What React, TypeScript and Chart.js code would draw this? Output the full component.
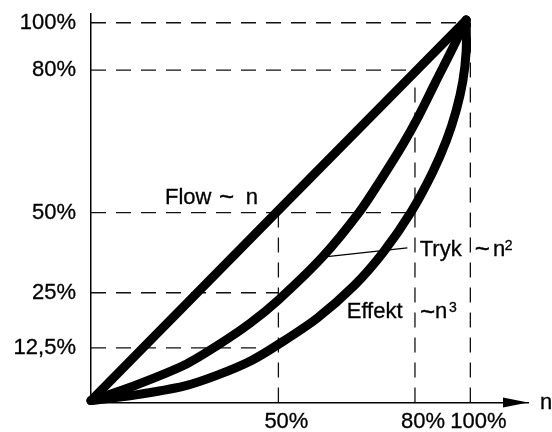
import React, { useEffect, useRef } from "react";
import { Chart, registerables } from "chart.js";

Chart.register(...registerables);

// Tick positions along the schematic axes and their labels
const xTickValues = [49.4, 85.4, 100];
const xTickLabels = ["50%", "80%", "100%"];
const yTickValues = [14.4, 28.9, 50, 87.5, 100];
const yTickLabels = ["12,5%", "25%", "50%", "80%", "100%"];

// Curves (schematic units)
const flowPoints = [
  { x: 0, y: 0.5 },
  { x: 49.2, y: 50.4 },
  { x: 98.9, y: 100.7 },
];
const trykPoints = [
  { x: 0, y: 0.5 },
  { x: 11.1, y: 4.3 },
  { x: 24.5, y: 9.8 },
  { x: 33.3, y: 15.0 },
  { x: 42.1, y: 21.0 },
  { x: 49.4, y: 27.0 },
  { x: 61.0, y: 38.3 },
  { x: 70.7, y: 50.1 },
  { x: 76.5, y: 58.8 },
  { x: 82.3, y: 68.1 },
  { x: 86.3, y: 75.3 },
  { x: 90.7, y: 84.1 },
  { x: 95.0, y: 92.6 },
  { x: 98.9, y: 100.7 },
];
const effektPoints = [
  { x: 0, y: 0.5 },
  { x: 11.1, y: 1.9 },
  { x: 24.5, y: 4.3 },
  { x: 33.3, y: 7.2 },
  { x: 42.2, y: 11.0 },
  { x: 49.4, y: 15.3 },
  { x: 59.6, y: 22.2 },
  { x: 69.4, y: 30.8 },
  { x: 77.0, y: 39.5 },
  { x: 84.4, y: 50.2 },
  { x: 90.0, y: 60.5 },
  { x: 93.7, y: 69.0 },
  { x: 96.3, y: 77.0 },
  { x: 98.0, y: 84.5 },
  { x: 98.9, y: 92.5 },
  { x: 98.9, y: 100.7 },
];

// Dashed guide segments
const guideSegments = [
  [[0, 100], [98.8, 100]],
  [[0, 87.5], [85.4, 87.5]],
  [[0, 50], [85.4, 50]],
  [[0, 28.9], [49.4, 28.9]],
  [[0, 14.4], [49.4, 14.4]],
  [[49.4, 0], [49.4, 50]],
  [[85.4, 0], [85.4, 87.5]],
  [[100, 0], [100, 100]],
];

// Leader line from the "Tryk" label to its curve
const leaderPoints = [
  { x: 61.0, y: 38.3 },
  { x: 83.4, y: 40.7 },
];

// Curve label texts, anchored in axis units
const labelTexts = ["Flow", "~", "n", "Tryk", "~", "n", "2", "Effekt", "~", "n", "3"];
const labelAnchorX = [19.5, 33.75, 40.8, 86.66, 101.16, 105.98, 109.07, 67.41, 86.74, 90.69, 94.38];
const labelAnchorY = [52.3, 52.3, 52.3, 38.7, 38.7, 38.7, 38.7, 22.2, 22.2, 22.2, 22.2];

// Glyph styling per label piece (font size, baseline shift in px)
const labelStyle = [
  [22, 0], [26, 1.5], [22, 0],
  [22, 0], [26, 1.5], [22, 0], [14, -5.7],
  [22, 0], [26, 1.5], [22, 0], [14, -5.7],
];

const FONT_FAMILY = "'Liberation Sans', Arial, sans-serif";
const TEXT_STROKE = 0.3;

export default function App() {
  const ref = useRef<HTMLCanvasElement>(null);

  useEffect(() => {
    const canvas = ref.current;
    if (!canvas) return;

    const font = { family: FONT_FAMILY, size: 22 };

    const curve = (data: any[], tension: number) => ({
      data,
      borderColor: "#000",
      borderWidth: 9,
      pointRadius: 0,
      tension,
      fill: false,
      order: 0,
      clip: 20,
      borderCapStyle: "round",
      borderJoinStyle: "round",
    });

    const guides = guideSegments.map((seg) => ({
      data: seg.map(([x, y]) => ({ x, y })),
      borderColor: "#111",
      borderWidth: 1.3,
      borderDash: [15, 10],
      pointRadius: 0,
      tension: 0,
      fill: false,
      order: 2,
      clip: 20,
    }));

    const overlay = {
      id: "overlay",
      afterDraw(chart: any) {
        const { ctx, chartArea, scales } = chart;
        const xs = scales.x;
        const ys = scales.y;
        const yb = chartArea.bottom;
        ctx.save();
        ctx.fillStyle = "#000";
        ctx.strokeStyle = "#000";
        ctx.lineWidth = TEXT_STROKE;
        ctx.beginPath();
        ctx.moveTo(chartArea.right, yb);
        ctx.lineTo(chartArea.right - 25, yb - 5);
        ctx.lineTo(chartArea.right - 25, yb + 5);
        ctx.closePath();
        ctx.fill();
        ctx.font = `22px ${FONT_FAMILY}`;
        ctx.textAlign = "left";
        ctx.textBaseline = "middle";
        ctx.fillText("n", chartArea.right + 12, yb);
        ctx.strokeText("n", chartArea.right + 12, yb);
        ctx.textBaseline = "alphabetic";
        labelTexts.forEach((t, i) => {
          const [size, dy] = labelStyle[i];
          ctx.font = `${size}px ${FONT_FAMILY}`;
          const px = xs.getPixelForValue(labelAnchorX[i]);
          const py = ys.getPixelForValue(labelAnchorY[i]) + dy;
          ctx.fillText(t, px, py);
          ctx.strokeText(t, px, py);
        });
        ctx.restore();
      },
    };

    const tickText = {
      autoSkip: false,
      color: "#000",
      font,
      textStrokeColor: "#000",
      textStrokeWidth: TEXT_STROKE,
    };

    const chart = new Chart(canvas, {
      type: "line",
      data: {
        datasets: [
          curve(flowPoints, 0),
          curve(trykPoints, 0.3),
          curve(effektPoints, 0.3),
          {
            data: leaderPoints,
            borderColor: "#000",
            borderWidth: 1.3,
            pointRadius: 0,
            tension: 0,
            fill: false,
            order: 1,
          },
          ...guides,
        ] as any,
      },
      options: {
        responsive: false,
        animation: false,
        events: [],
        layout: { padding: { top: 14, right: 24, left: 0, bottom: 0 } },
        plugins: {
          legend: { display: false },
          tooltip: { enabled: false },
        },
        scales: {
          x: {
            type: "linear",
            min: 0,
            max: 115.2,
            afterBuildTicks: (s: any) => {
              s.ticks = xTickValues.map((v) => ({ value: v }));
            },
            afterFit: (s: any) => {
              s.height = 29.5;
              s.paddingLeft = 0;
              s.paddingRight = 0;
              s.paddingTop = 0;
              s.paddingBottom = 0;
            },
            grid: { display: false, drawTicks: false },
            border: { display: true, color: "#000", width: 1.5 },
            ticks: {
              ...tickText,
              maxRotation: 0,
              padding: 6,
              labelOffset: 8,
              callback: (_v: any, i: number) => xTickLabels[i],
            },
          },
          y: {
            type: "linear",
            min: 0,
            max: 102.3,
            afterBuildTicks: (s: any) => {
              s.ticks = yTickValues.map((v) => ({ value: v }));
            },
            afterFit: (s: any) => {
              s.width = 91;
              s.paddingTop = 0;
              s.paddingBottom = 0;
              s.paddingLeft = 0;
              s.paddingRight = 0;
            },
            grid: { display: false, drawTicks: false },
            border: { display: true, color: "#000", width: 1.5 },
            ticks: {
              ...tickText,
              padding: 15,
              callback: (_v: any, i: number) => yTickLabels[i],
            },
          },
        },
      } as any,
      plugins: [overlay],
    });

    return () => chart.destroy();
  }, []);

  return (
    <div
      style={{
        position: "fixed",
        left: 0,
        top: 0,
        width: 552,
        height: 432,
        background: "#fff",
      }}
    >
      <canvas
        ref={ref}
        width={552}
        height={432}
        style={{ display: "block", width: 552, height: 432 }}
      />
    </div>
  );
}
